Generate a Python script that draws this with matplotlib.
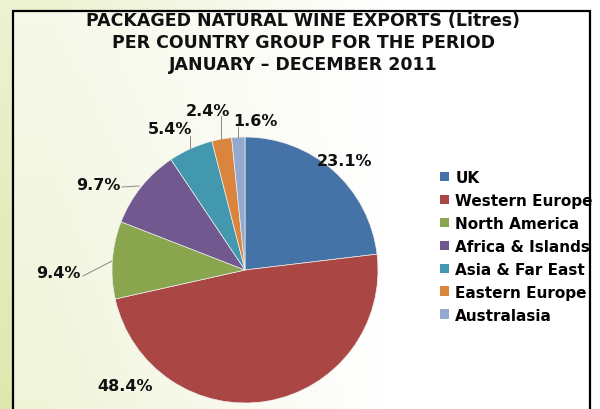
import numpy as np
import matplotlib.pyplot as plt
from matplotlib.patches import Rectangle, Patch

# data
groups = ["UK", "Western Europe", "North America", "Africa & Islands",
          "Asia & Far East", "Eastern Europe", "Australasia"]
shares = [23.1, 48.4, 9.4, 9.7, 5.4, 2.4, 1.6]
colors = ["#4572A7", "#AA4643", "#89A54E", "#71588F", "#4198AF", "#DB843D", "#93A9CF"]

title = "PACKAGED NATURAL WINE EXPORTS (Litres)\nPER COUNTRY GROUP FOR THE PERIOD\nJANUARY \u2013 DECEMBER 2011"

W, H = 600, 410
fig = plt.figure(figsize=(W/100, H/100), dpi=100, facecolor="white")

def fx(px):
    return px / W

def fy(py):
    return 1 - py / H

# soft green backdrop fading to white on the right (decoration only)
bg = fig.add_axes([0, 0, 1, 1], zorder=-10)
xx, yy = np.meshgrid(np.linspace(0, 1, 120), np.linspace(0, 1, 82))
wgt = np.clip(1.15 - xx / 0.55, 0, 1) * (0.55 + 0.45 * yy)
green = np.array([0.87, 0.91, 0.68])
img = 1 - wgt[..., None] * (1 - green)
bg.imshow(img, aspect="auto", extent=[0, 1, 0, 1], interpolation="bicubic")
bg.axis("off")

# frame with black border
fig.patches.append(Rectangle((fx(13), fy(420)), fx(590) - fx(13), fy(12) - fy(420),
                             transform=fig.transFigure, facecolor=(1, 1, 1, 0.55),
                             edgecolor="black", lw=1.6, zorder=-5))

fig.text(fx(303), fy(12), title, ha="center", va="top", fontsize=12.5,
         fontweight="bold", linespacing=1.3, color="#111111")

# pie axes: centre (245,271), radius 133 px
cx, cy, r = 245, 271, 133
ax = fig.add_axes([fx(cx - r), fy(cy + r), fx(2*r), fy(cy - r) - fy(cy + r)])
ax.set_zorder(2)
ax.set_facecolor("none")
wedges, _ = ax.pie(shares, colors=colors, startangle=90, counterclock=False,
                   radius=1, wedgeprops=dict(linewidth=0.5, edgecolor="#eeeeee"))
ax.set_xlim(-1, 1)
ax.set_ylim(-1, 1)
ax.axis("off")

def d(px, py):
    return ((px - cx) / r, (cy - py) / r)

# label positions (pixel), leader line end points (pixel or None)
lab_pos = [(345, 161), (125, 387), (58, 273), (98, 186), (170, 130), (208, 111), (255, 121)]
leaders = [None, None,
           [(83, 277), (112, 262)],
           [(122, 188), (139, 187)],
           [(190, 137), (190, 150)],
           [(221, 117), (221, 140)],
           [(238, 128), (238, 138)]]

for s, p, ln in zip(shares, lab_pos, leaders):
    ax.text(*d(*p), f"{s:.1f}%", ha="center", va="center", fontsize=11.5,
            fontweight="bold", color="#111111", clip_on=False)
    if ln:
        (x1, y1), (x2, y2) = d(*ln[0]), d(*ln[1])
        ax.plot([x1, x2], [y1, y2], color="#888888", lw=0.7, clip_on=False)

handles = [Patch(facecolor=c, edgecolor="none") for c in colors]
fig.legend(handles, groups, loc="upper left", bbox_to_anchor=(fx(440), fy(171)),
           frameon=False, prop=dict(size=11, weight="bold"),
           handlelength=0.6, handleheight=0.6, handletextpad=0.4,
           labelspacing=0.52, borderpad=0, borderaxespad=0)

fig.savefig("out.png", dpi=100)
